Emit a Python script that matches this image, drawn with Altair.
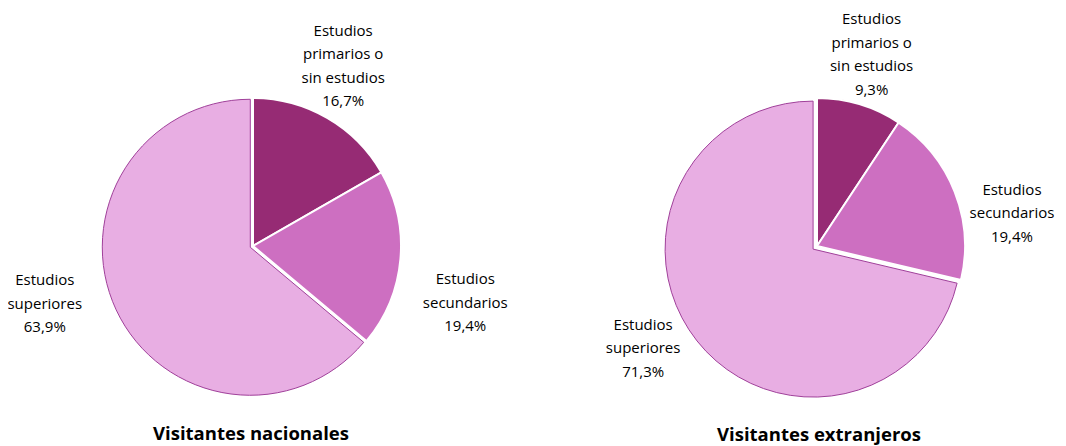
import math
import altair as alt
import pandas as pd

# ---------------- data ----------------
pies = ["Visitantes nacionales", "Visitantes extranjeros"]
categories = ["Estudios primarios o sin estudios", "Estudios secundarios", "Estudios superiores"]
label_names = ["Estudios\nprimarios o\nsin estudios", "Estudios\nsecundarios", "Estudios\nsuperiores"]
nacionales = [16.7, 19.4, 63.9]
extranjeros = [9.3, 19.4, 71.3]
series = [nacionales, extranjeros]

colors = ["#962B74", "#CD6FC1", "#E8AEE3"]

rows = []
for p, vals in zip(pies, series):
    for i, (c, ln, v) in enumerate(zip(categories, label_names, vals)):
        rows.append({
            "pie": p, "cat": c, "order": i, "value": v,
            "label": ln + "\n" + f"{v:.1f}".replace(".", ",") + "%",
        })
df = pd.DataFrame(rows)

# ---------------- layout / style ----------------
W, H = 1050, 438
R = 148
centers = {pies[0]: (245, 238), pies[1]: (809, 238)}
explode = {pies[0]: 3.0, pies[1]: 5.0}
label_radius = 200
LH = 23.5
# per-label nudges (dx, dy of the block centre) relative to the slice mid-angle anchor
nudges = {
    pies[0]: [(-10, -7), (13, 39), (-27, -27)],
    pies[1]: [(-3, 0), (9, 41), (-17, -22)],
}
title_y = {pies[0]: 432, pies[1]: 433}
FONT = "Open Sans"

theta_scale = alt.Scale(domain=[0, 100], range=[0, 2 * math.pi])
color_scale = alt.Scale(domain=categories, range=colors)

layers = []
for p, vals in zip(pies, series):
    cx, cy = centers[p]
    base = (
        alt.Chart(df)
        .transform_filter(alt.datum.pie == p)
        .transform_stack(stack="value", groupby=["pie"], as_=["v0", "v1"],
                         sort=[alt.SortField("order")])
        .transform_calculate(mid="(datum.v0 + datum.v1) / 2")
    )
    # normal slices
    layers.append(
        base.transform_filter(alt.datum.cat != categories[2])
        .mark_arc(outerRadius=R, stroke="white", strokeWidth=2)
        .encode(
            theta=alt.Theta("v0:Q", scale=theta_scale),
            theta2="v1:Q",
            color=alt.Color("cat:N", scale=color_scale, legend=None),
            x=alt.value(cx), y=alt.value(cy),
        )
    )
    # exploded slice (superiores)
    start = sum(vals[:2])
    mid_ang = (start + 100) / 2 / 100 * 2 * math.pi
    ex = explode[p] * math.sin(mid_ang)
    ey = -explode[p] * math.cos(mid_ang)
    layers.append(
        base.transform_filter(alt.datum.cat == categories[2])
        .mark_arc(outerRadius=R, stroke="#A0409A", strokeWidth=1)
        .encode(
            theta=alt.Theta("v0:Q", scale=theta_scale),
            theta2="v1:Q",
            color=alt.Color("cat:N", scale=color_scale, legend=None),
            x=alt.value(cx + ex), y=alt.value(cy + ey),
        )
    )
    # labels
    for i, c in enumerate(categories):
        dx, dy = nudges[p][i]
        nlines = label_names[i].count("\n") + 2
        dy = dy - (nlines - 1) / 2 * LH
        layers.append(
            base.transform_filter(alt.datum.cat == c)
            .mark_text(radius=label_radius, dx=dx, dy=dy, lineBreak="\n",
                       lineHeight=LH, font=FONT, fontSize=15, color="#000000",
                       align="center", baseline="middle")
            .encode(
                theta=alt.Theta("mid:Q", scale=theta_scale),
                text="label:N",
                x=alt.value(cx), y=alt.value(cy),
            )
        )
    # title
    layers.append(
        alt.Chart(pd.DataFrame({"t": [p]}))
        .mark_text(font=FONT, fontSize=18.5, fontWeight="bold", color="#000000",
                   align="center", baseline="alphabetic")
        .encode(text="t:N", x=alt.value(cx - 2 if p == pies[0] else cx + 2),
                y=alt.value(title_y[p]))
    )

chart = (
    alt.layer(*layers)
    .properties(width=W, height=H, padding=0, autosize="none")
    .configure_view(stroke=None)
)

chart.save("out.html", embed_options={"renderer": "svg", "actions": False})
